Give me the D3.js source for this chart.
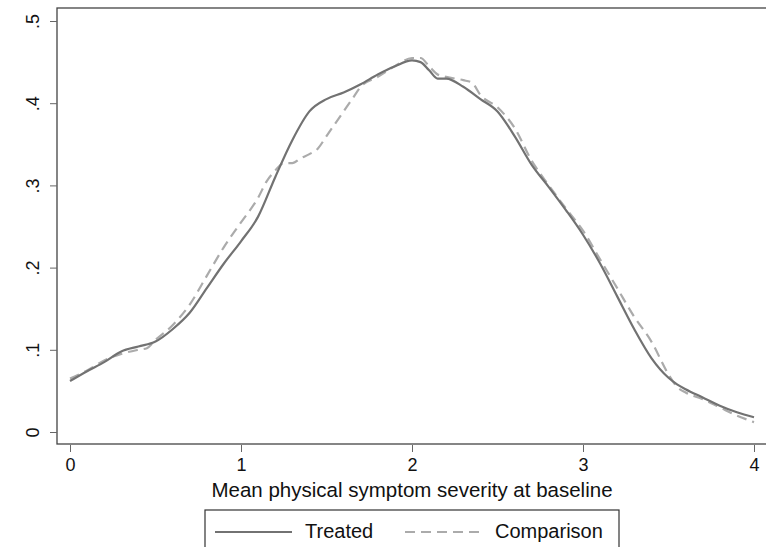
<!DOCTYPE html>
<html>
<head>
<meta charset="utf-8">
<script src="https://cdn.jsdelivr.net/npm/d3@7"></script>
<style>
  body { margin: 0; background: #fff; }
  svg { display: block; font-family: "Liberation Sans", Arial, sans-serif; }
</style>
</head>
<body>
<svg id="graph" width="766" height="547"></svg>
<script>
// valeurs (densité)
var treatedX = [0, 0.1, 0.2, 0.3, 0.4, 0.5, 0.6, 0.7, 0.8, 0.9, 1.0, 1.1, 1.2, 1.3, 1.4, 1.5, 1.6, 1.7, 1.8, 1.9, 2.0, 2.05, 2.1, 2.15, 2.2, 2.3, 2.4, 2.5, 2.6, 2.7, 2.8, 2.9, 3.0, 3.1, 3.2, 3.3, 3.4, 3.5, 3.55, 3.6, 3.7, 3.8, 3.9, 4.0];
var treatedY = [0.062, 0.074, 0.085, 0.098, 0.104, 0.11, 0.125, 0.145, 0.175, 0.205, 0.232, 0.262, 0.31, 0.355, 0.39, 0.405, 0.413, 0.423, 0.435, 0.445, 0.452, 0.45, 0.44, 0.43, 0.43, 0.42, 0.405, 0.39, 0.36, 0.325, 0.298, 0.27, 0.24, 0.205, 0.165, 0.125, 0.09, 0.066, 0.058, 0.052, 0.042, 0.032, 0.024, 0.018];

var compX = [0, 0.1, 0.2, 0.3, 0.4, 0.45, 0.5, 0.6, 0.7, 0.8, 0.9, 1.0, 1.1, 1.15, 1.2, 1.25, 1.3, 1.35, 1.4, 1.45, 1.5, 1.55, 1.6, 1.65, 1.7, 1.8, 1.9, 2.0, 2.05, 2.1, 2.15, 2.2, 2.3, 2.35, 2.4, 2.5, 2.6, 2.7, 2.8, 2.9, 3.0, 3.1, 3.2, 3.3, 3.4, 3.5, 3.55, 3.6, 3.7, 3.8, 3.9, 4.0];
var compY = [0.065, 0.075, 0.087, 0.095, 0.1, 0.102, 0.112, 0.13, 0.155, 0.19, 0.225, 0.255, 0.285, 0.305, 0.318, 0.327, 0.327, 0.333, 0.338, 0.345, 0.36, 0.375, 0.39, 0.405, 0.42, 0.432, 0.445, 0.455, 0.455, 0.445, 0.435, 0.432, 0.428, 0.425, 0.41, 0.395, 0.37, 0.33, 0.3, 0.272, 0.245, 0.21, 0.175, 0.14, 0.11, 0.07, 0.055, 0.048, 0.04, 0.03, 0.02, 0.012];

var xTicks = [0, 1, 2, 3, 4];
var yTicks = [0, 0.1, 0.2, 0.3, 0.4, 0.5];
var yTickLabels = ["0", ".1", ".2", ".3", ".4", ".5"];
var xTitle = "Mean physical symptom severity at baseline";
var legendNames = ["Treated", "Comparison"];

var svg = d3.select("#graph");

// zone du graphique (le cadre dépasse à droite comme sur l'original)
var frame = {left: 57, top: 8, right: 772, bottom: 444};

var scaleX = d3.scaleLinear().domain([0, 4]).range([70, 754]);
var scaleY = d3.scaleLinear().domain([0, 0.5]).range([432, 21]);
var xMid = (scaleX(0) + scaleX(4)) / 2;

// cadre
svg.append("rect")
  .attr("x", frame.left).attr("y", frame.top)
  .attr("width", frame.right - frame.left).attr("height", frame.bottom - frame.top)
  .attr("fill", "none").attr("stroke", "#444").attr("stroke-width", 1.3);

// Axe X (décalé sous le cadre, style Stata)
var xAxis = d3.axisBottom(scaleX).tickValues(xTicks).tickSize(8).tickPadding(6).tickFormat(d3.format("d"));
var gx = svg.append("g").attr("transform", "translate(0," + frame.bottom + ")").call(xAxis);
gx.select(".domain").remove();
gx.selectAll("line").attr("stroke", "#666").attr("y1", 1);
gx.selectAll("text").attr("font-size", 18).attr("fill", "#111").attr("font-family", "Liberation Sans, Arial, sans-serif");

// Axe Y (étiquettes verticales)
var yAxis = d3.axisLeft(scaleY).tickValues(yTicks).tickSize(7).tickFormat(function(d, i) { return yTickLabels[i]; });
var gy = svg.append("g").attr("transform", "translate(" + frame.left + ",0)").call(yAxis);
gy.select(".domain").remove();
gy.selectAll("line").attr("stroke", "#666");
gy.selectAll("text")
  .attr("font-size", 18).attr("fill", "#111").attr("font-family", "Liberation Sans, Arial, sans-serif")
  .attr("text-anchor", "middle")
  .attr("x", 0).attr("y", 0).attr("dy", "0.35em")
  .attr("transform", "translate(-24,0) rotate(-90)");

// titre de l'axe X
svg.append("text")
  .attr("x", xMid).attr("y", 497)
  .attr("text-anchor", "middle").attr("font-size", 20.5).attr("fill", "#111")
  .text(xTitle);

// courbes
var line = d3.line().curve(d3.curveMonotoneX)
  .x(function(d) { return scaleX(d[0]); })
  .y(function(d) { return scaleY(d[1]); });

svg.append("path")
  .attr("d", line(compX.map(function(x, i) { return [x, compY[i]]; })))
  .attr("fill", "none").attr("stroke", "#ababab").attr("stroke-width", 2.2)
  .attr("stroke-dasharray", "10,6");

svg.append("path")
  .attr("d", line(treatedX.map(function(x, i) { return [x, treatedY[i]]; })))
  .attr("fill", "none").attr("stroke", "#727272").attr("stroke-width", 2.2);

// légende
var leg = svg.append("g");
leg.append("rect").attr("x", 205).attr("y", 510).attr("width", 414).attr("height", 50)
  .attr("fill", "#fff").attr("stroke", "#333").attr("stroke-width", 1.2);
leg.append("line").attr("x1", 215).attr("x2", 292).attr("y1", 532).attr("y2", 532)
  .attr("stroke", "#727272").attr("stroke-width", 2.2);
leg.append("text").attr("x", 305).attr("y", 538).attr("font-size", 20).attr("fill", "#111").text(legendNames[0]);
leg.append("line").attr("x1", 405).attr("x2", 482).attr("y1", 532).attr("y2", 532)
  .attr("stroke", "#ababab").attr("stroke-width", 2.2).attr("stroke-dasharray", "10,6");
leg.append("text").attr("x", 495).attr("y", 538).attr("font-size", 20).attr("fill", "#111").text(legendNames[1]);
</script>
</body>
</html>
